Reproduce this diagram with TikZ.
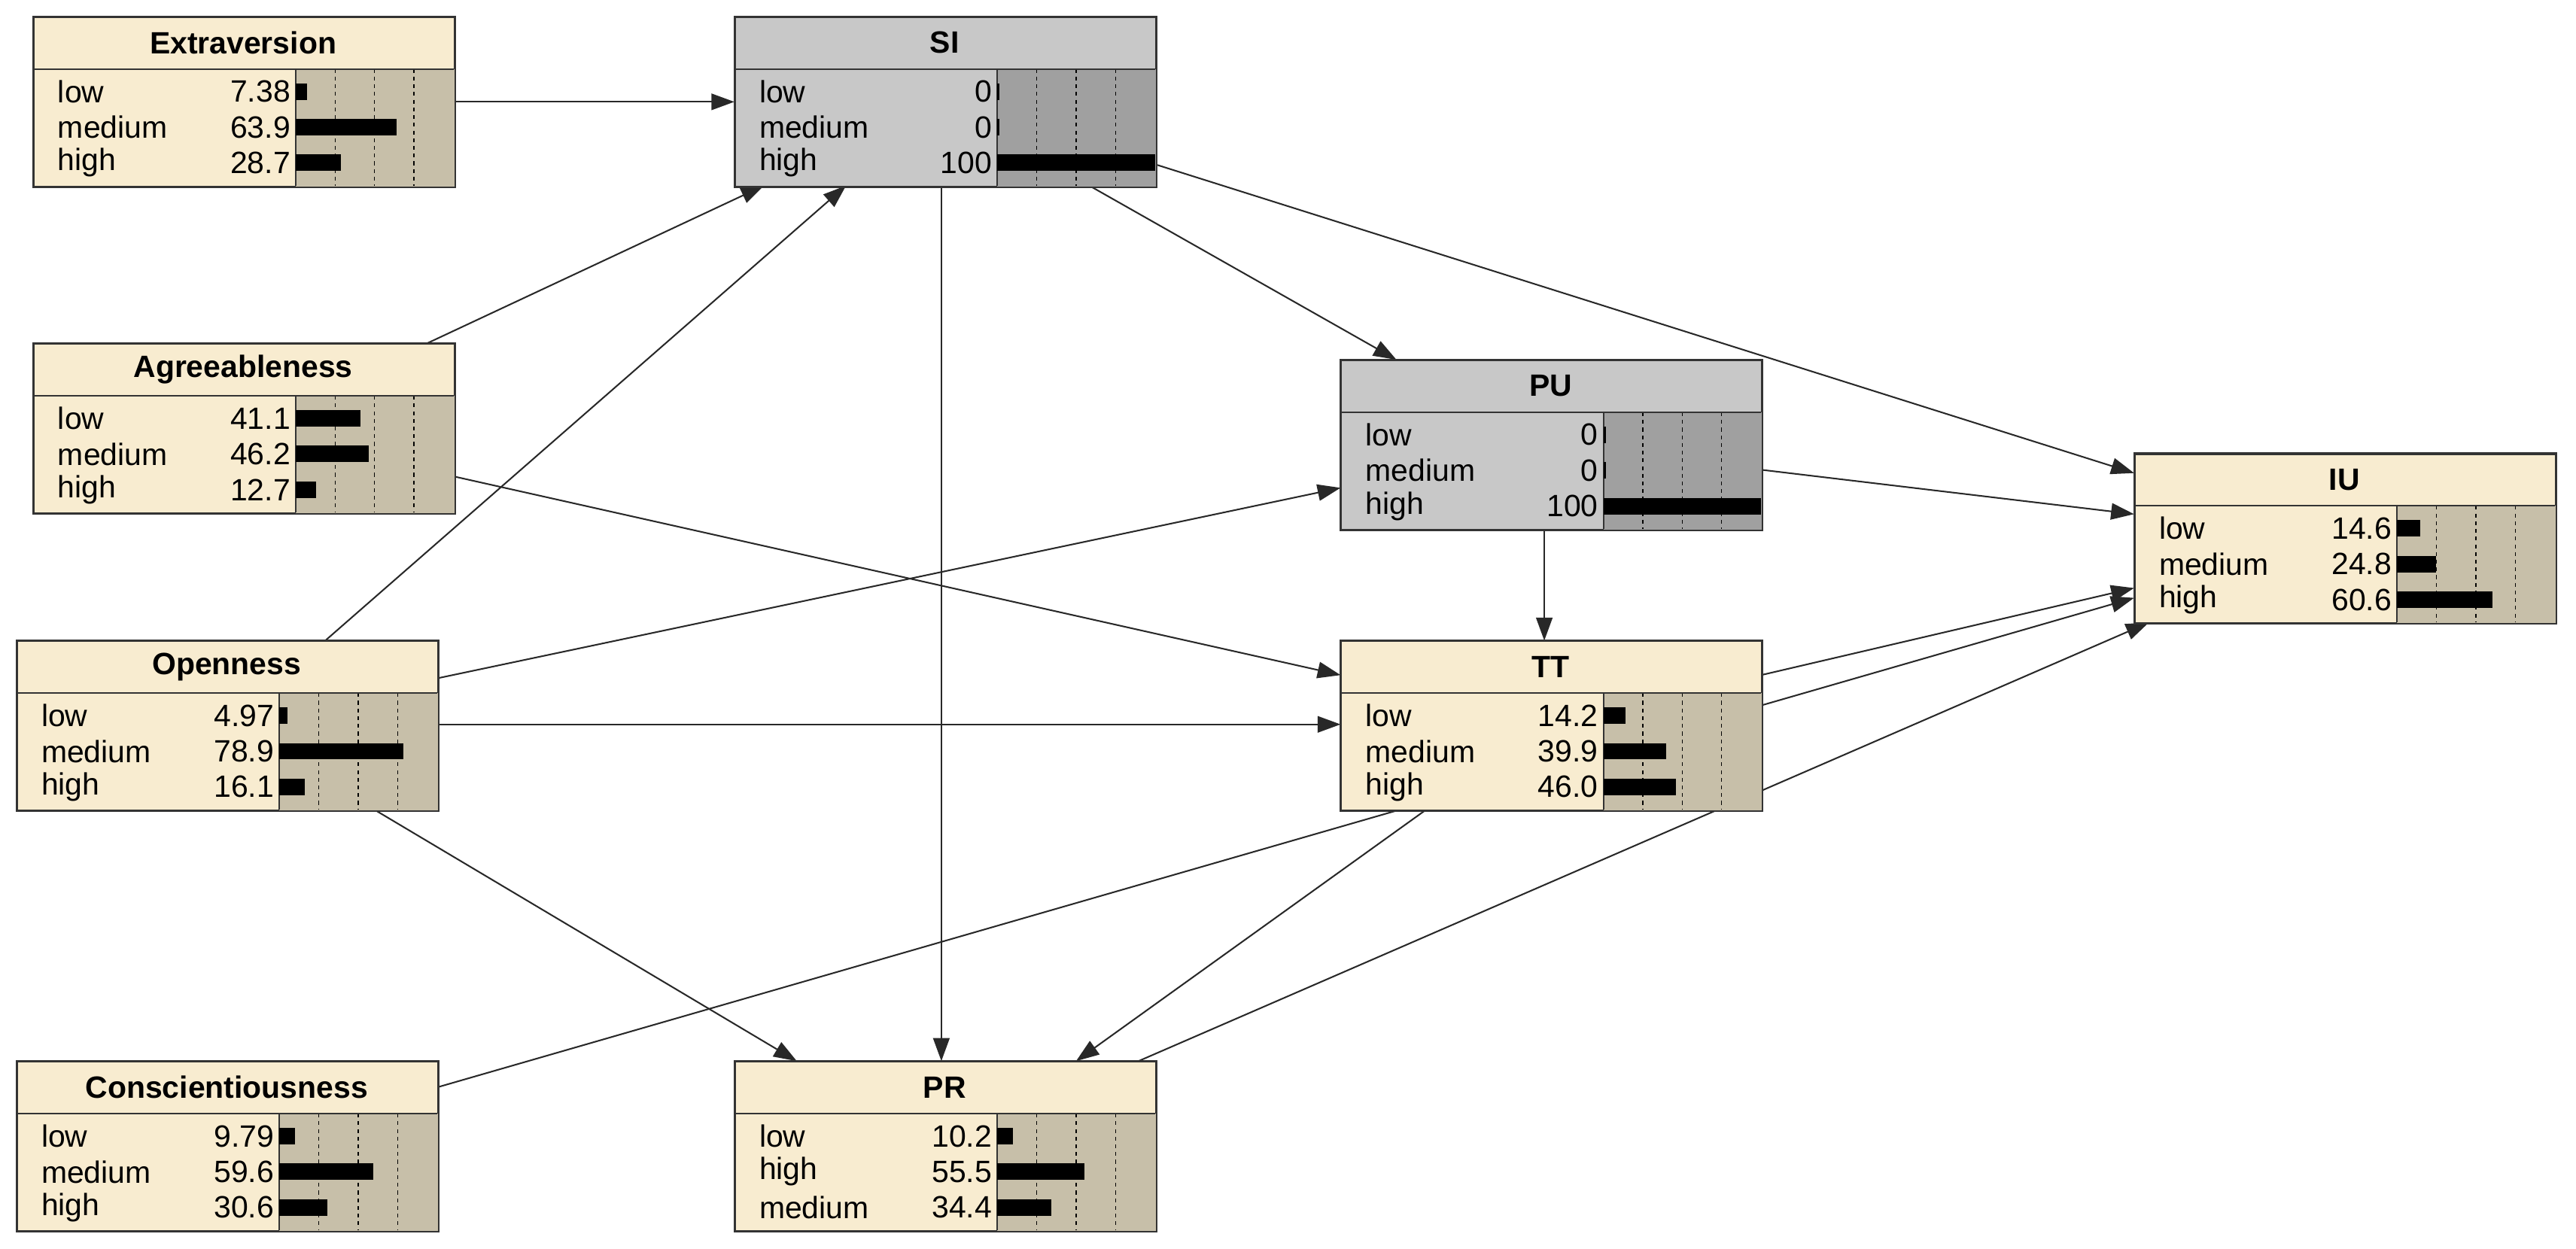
\documentclass[tikz,border=0pt]{standalone}
\usepackage{fontspec}
\setmainfont{Liberation Sans}
\usetikzlibrary{arrows.meta,backgrounds}
\definecolor{tanbg}{RGB}{248,236,208}
\definecolor{tanbar}{RGB}{199,191,169}
\definecolor{graybg}{RGB}{200,200,200}
\definecolor{graybar}{RGB}{160,160,160}
\definecolor{edgec}{RGB}{40,40,40}
\tikzset{
  box/.style={draw=black!80,line width=0.8pt,anchor=north west,minimum width=7.68cm,minimum height=3.09cm,inner sep=0pt},
  edge/.style={draw=edgec,line width=0.8pt,-{Triangle[length=0.42cm,width=0.3cm]}},
  txt/.style={font=\fontsize{16}{18}\selectfont,inner sep=0pt},
  ttl/.style={font=\fontsize{16}{18}\selectfont\bfseries,inner sep=0pt}
}
% #1 name #2 x #3 y #4 title #5 main fill #6 bar bg #7 rows label/value
\newcommand\bnbox[7]{%
  \node[box,fill=#5] (#1) at (#2,#3) {};
  \fill[#6] ([shift={(160,32)}]#1.north west) rectangle (#1.south east);
  \foreach \d in {24,48,72}{\draw[black,line width=0.5pt,dash pattern=on 2pt off 2pt] ([shift={(160+\d,32)}]#1.north west) -- ([shift={(160+\d,103)}]#1.north west);}
  \draw[black!80,line width=0.8pt] ([shift={(0,32)}]#1.north west) -- ([shift={(256,32)}]#1.north west);
  \draw[black!80,line width=0.8pt] ([shift={(160,32)}]#1.north west) -- ([shift={(160,103)}]#1.north west);
  \node[ttl] at ([shift={(128,16)}]#1.north west) {#4};
  \foreach \l/\v [count=\i] in {#7}{%
    \pgfmathsetmacro\yy{24+21.7*\i}%
    \pgfmathsetmacro\bw{max(0.96*\v,1.5)}%
    \node[txt,anchor=west] at ([shift={(15,\yy)}]#1.north west) {\l};
    \node[txt,anchor=east] at ([shift={(157,\yy)}]#1.north west) {\v};
    \fill[black] ([shift={(160,\yy-5)}]#1.north west) rectangle ([shift={(160+\bw,\yy+5)}]#1.north west);
  }%
  \draw[black!80,line width=0.8pt] (#1.north west) rectangle (#1.south east);
}
\begin{document}
\begin{tikzpicture}[x=0.03cm,y=-0.03cm]
\useasboundingbox (0,0) rectangle (1568,760);
\bnbox{E}{20}{10}{Extraversion}{tanbg}{tanbar}{low/7.38,medium/63.9,high/28.7}
\bnbox{SI}{447}{10}{SI}{graybg}{graybar}{low/0,medium/0,high/100}
\bnbox{A}{20}{209}{Agreeableness}{tanbg}{tanbar}{low/41.1,medium/46.2,high/12.7}
\bnbox{PU}{816}{219}{PU}{graybg}{graybar}{low/0,medium/0,high/100}
\bnbox{IU}{1299}{276}{IU}{tanbg}{tanbar}{low/14.6,medium/24.8,high/60.6}
\bnbox{O}{10}{390}{Openness}{tanbg}{tanbar}{low/4.97,medium/78.9,high/16.1}
\bnbox{TT}{816}{390}{TT}{tanbg}{tanbar}{low/14.2,medium/39.9,high/46.0}
\bnbox{C}{10}{646}{Conscientiousness}{tanbg}{tanbar}{low/9.79,medium/59.6,high/30.6}
\bnbox{PR}{447}{646}{PR}{tanbg}{tanbar}{low/10.2,high/55.5,medium/34.4}
\begin{pgfonlayer}{background}
\draw[edge] ([shift={(256,52)}]E.north west) -- ([shift={(0,52)}]SI.north west);
\draw[edge] ([shift={(240,0)}]A.north west) -- ([shift={(18,103)}]SI.north west);
\draw[edge] ([shift={(188,0)}]O.north west) -- ([shift={(68,103)}]SI.north west);
\draw[edge] ([shift={(126,103)}]SI.north west) -- ([shift={(126,0)}]PR.north west);
\draw[edge] ([shift={(216,103)}]SI.north west) -- ([shift={(34,0)}]PU.north west);
\draw[edge] ([shift={(256,90)}]SI.north west) -- ([shift={(0,12)}]IU.north west);
\draw[edge] ([shift={(256,81)}]A.north west) -- ([shift={(0,21)}]TT.north west);
\draw[edge] ([shift={(256,23)}]O.north west) -- ([shift={(0,78)}]PU.north west);
\draw[edge] ([shift={(256,51)}]O.north west) -- ([shift={(0,51)}]TT.north west);
\draw[edge] ([shift={(218,103)}]O.north west) -- ([shift={(38,0)}]PR.north west);
\draw[edge] ([shift={(124,103)}]PU.north west) -- ([shift={(124,0)}]TT.north west);
\draw[edge] ([shift={(256,67)}]PU.north west) -- ([shift={(0,37)}]IU.north west);
\draw[edge] ([shift={(256,21)}]TT.north west) -- ([shift={(0,82)}]IU.north west);
\draw[edge] ([shift={(256,16)}]C.north west) -- ([shift={(0,88)}]IU.north west);
\draw[edge] ([shift={(52,103)}]TT.north west) -- ([shift={(208,0)}]PR.north west);
\draw[edge] ([shift={(246,0)}]PR.north west) -- ([shift={(9,103)}]IU.north west);
\end{pgfonlayer}
\end{tikzpicture}
\end{document}
